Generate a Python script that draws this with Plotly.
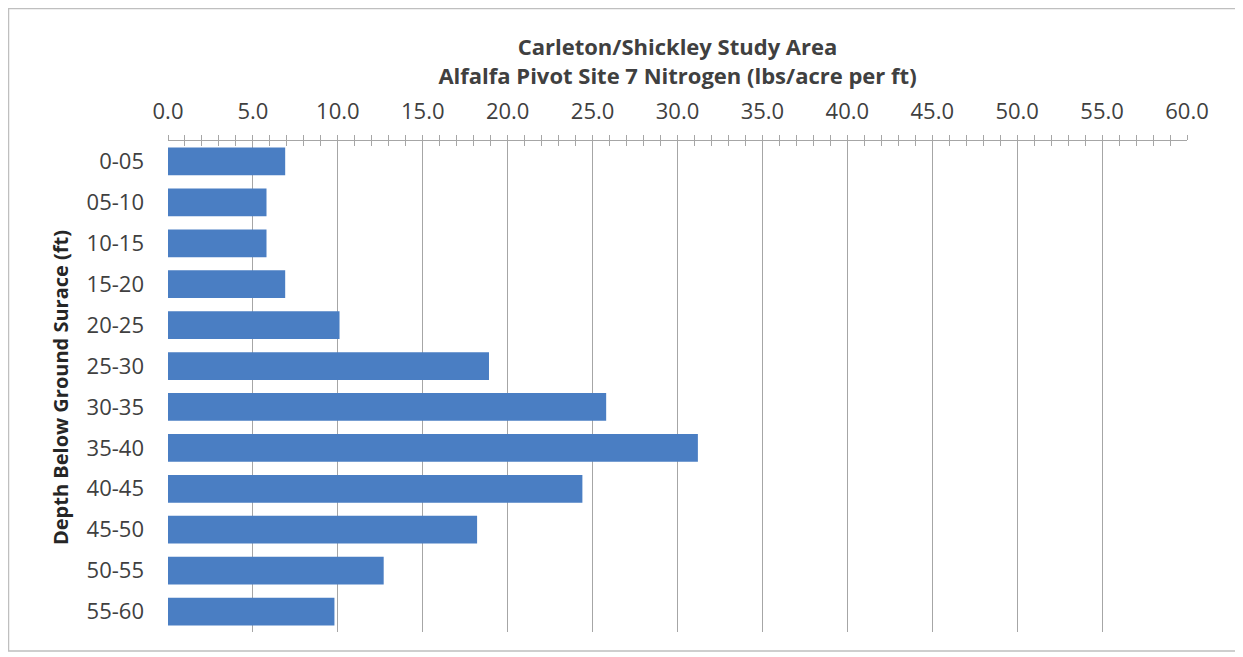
import plotly.graph_objects as go

categories = ["0-05", "05-10", "10-15", "15-20", "20-25", "25-30",
              "30-35", "35-40", "40-45", "45-50", "50-55", "55-60"]
nitrogen = [6.9, 5.8, 5.8, 6.9, 10.1, 18.9, 25.8, 31.2, 24.4, 18.2, 12.7, 9.8]
x_ticks = [0, 5, 10, 15, 20, 25, 30, 35, 40, 45, 50, 55, 60]
x_tick_labels = [f"{v:.1f}" for v in x_ticks]

title_text = "Carleton/Shickley Study Area<br>Alfalfa Pivot Site 7 Nitrogen (lbs/acre per ft)"
y_title = "Depth Below Ground Surace (ft)"

FONT = "Open Sans"
grid_col = "#A6A6A6"
OFF = 8  # page body margin
W, H = 1243 - OFF, 657 - OFF
PL, PR, PT, PB = 168 - OFF, 1187 - OFF, 141 - OFF, 632 - OFF
PW, PH = PR - PL, PB - PT

fig = go.Figure()
fig.add_trace(go.Bar(
    y=categories, x=nitrogen, orientation="h",
    marker=dict(color="#4A7EC3", line=dict(width=0)),
    width=0.68, hoverinfo="x+y",
))
# overlay axis for ticks that cross the axis line (Excel-style)
fig.add_trace(go.Bar(
    y=categories, x=nitrogen, orientation="h", xaxis="x2",
    marker=dict(color="rgba(0,0,0,0)", line=dict(width=0)),
    width=0.68, hoverinfo="skip", showlegend=False,
))

fig.update_layout(
    width=W, height=H,
    margin=dict(l=PL, r=W - PR, t=PT, b=H - PB),
    paper_bgcolor="white", plot_bgcolor="white",
    showlegend=False, barmode="overlay",
    font=dict(family=FONT, color="#404040", size=22),
    title=dict(text=title_text, x=0.5, xref="paper", xanchor="center",
               y=1 - (55 - OFF) / H, yref="container", yanchor="top",
               font=dict(family=FONT, size=22, color="#404040", weight="bold")),
    xaxis=dict(
        side="top", range=[0, 60], tickvals=x_ticks, ticktext=x_tick_labels,
        showgrid=True, gridcolor=grid_col, gridwidth=1,
        showline=True, linecolor=grid_col, linewidth=1,
        ticks="outside", ticklen=5, tickcolor=grid_col,
        minor=dict(dtick=1, ticks="outside", ticklen=5, tickcolor=grid_col, showgrid=False),
        ticklabelstandoff=7, automargin=False,
        tickfont=dict(family=FONT, size=22, color="#404040"),
        zeroline=False, fixedrange=True,
    ),
    xaxis2=dict(
        overlaying="x", matches="x", side="top", range=[0, 60],
        tickvals=x_ticks, showticklabels=False, showgrid=False,
        ticks="inside", ticklen=5, tickcolor=grid_col,
        minor=dict(dtick=1, ticks="inside", ticklen=5, tickcolor=grid_col, showgrid=False),
        showline=False, zeroline=False, automargin=False,
    ),
    yaxis=dict(
        type="category",
        autorange="reversed", categoryorder="array", categoryarray=categories,
        showgrid=False, showline=False, ticks="", automargin=False,
        ticklabelstandoff=23,
        tickfont=dict(family=FONT, size=22, color="#404040"),
    ),
    annotations=[
        dict(text=y_title, xref="paper", yref="paper",
             x=(60 - OFF - PL) / PW, y=(PB - (388 - OFF)) / PH, xanchor="center", yanchor="middle",
             textangle=-90, showarrow=False,
             font=dict(family=FONT, size=20, color="#262626", weight="bold")),
    ],
    shapes=[
        dict(type="rect", xref="paper", yref="paper",
             x0=(0.5 - PL) / PW, x1=(1240 - OFF - PL) / PW,
             y0=(PB - (651 - OFF)) / PH, y1=(PB - 0.5) / PH,
             line=dict(color="#BFBFBF", width=1.5), fillcolor="rgba(0,0,0,0)", layer="below"),
    ],
)

fig.write_html("out.html")
